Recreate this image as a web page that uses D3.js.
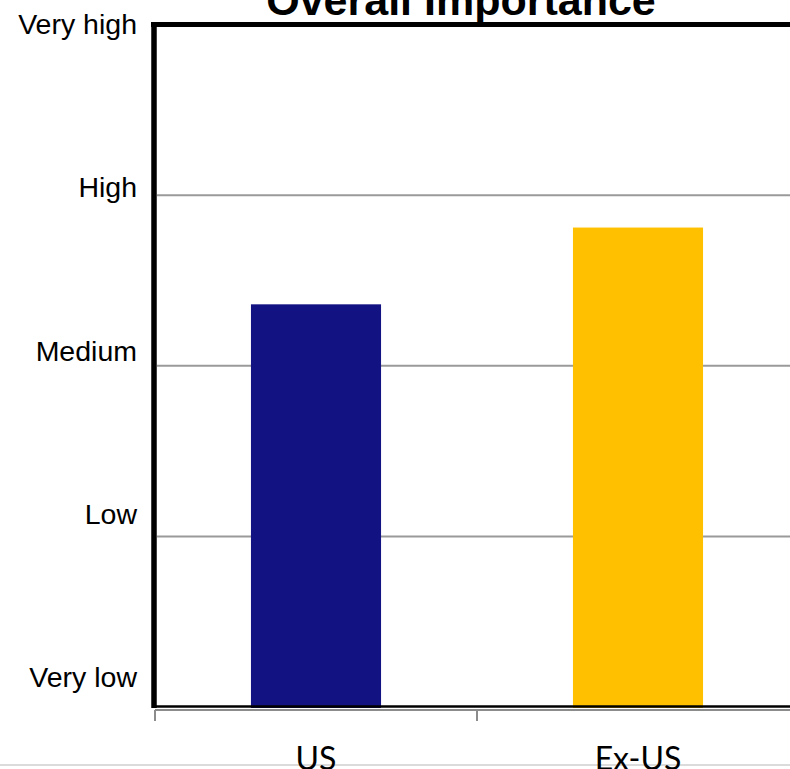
<!DOCTYPE html>
<html>
<head>
<meta charset="utf-8">
<script src="https://cdn.jsdelivr.net/npm/d3@7"></script>
<style>
  html, body { margin: 0; padding: 0; background: #fff; overflow: hidden; }
  svg { display: block; }
</style>
</head>
<body>
<svg id="chart" width="790" height="769"></svg>
<script>
// Overall importance rating by region (1 = Very low … 5 = Very high)
const categories = ["US", "Ex-US"];
const importance = [3.36, 3.81];
const barColors = ["#121282", "#FFC000"];
const levelValues = [1, 2, 3, 4, 5];
const levelLabels = ["Very low", "Low", "Medium", "High", "Very high"];
const title = "Overall Importance";

const svg = d3.select("#chart");
const W = 790, H = 769;
const plot = { left: 154, right: 799, top: 24.5, bottom: 707 };

const x = d3.scaleBand()
  .domain(categories)
  .range([plot.left + 1, plot.right])
  .paddingInner(0.596)
  .paddingOuter(0.298);

const y = d3.scaleLinear().domain([1, 5]).range([plot.bottom, plot.top]);
// the level captions sit on their own evenly spaced track
const yLabel = d3.scaleLinear().domain([1, 5]).range([687, 34]);

// title
svg.append("text")
  .attr("x", 461).attr("y", 15)
  .attr("text-anchor", "middle")
  .style("font-family", "Liberation Sans, Arial, sans-serif")
  .style("font-weight", "bold")
  .style("font-size", "43px")
  .text(title);

// horizontal gridlines
svg.append("g").selectAll("line")
  .data(levelValues.filter(v => v > 1 && v < 5))
  .join("line")
  .attr("x1", plot.left + 3).attr("x2", W)
  .attr("y1", d => y(d)).attr("y2", d => y(d))
  .attr("stroke", "#9a9a9a").attr("stroke-width", 2);

// bars
svg.append("g").selectAll("rect")
  .data(categories)
  .join("rect")
  .attr("x", d => x(d))
  .attr("width", x.bandwidth())
  .attr("y", (d, i) => y(importance[i]))
  .attr("height", (d, i) => y(1) - y(importance[i]) + 1)
  .attr("fill", (d, i) => barColors[i]);

// plot frame: heavy top and left, lighter bottom
svg.append("line")
  .attr("x1", plot.left - 3).attr("x2", W)
  .attr("y1", plot.top).attr("y2", plot.top)
  .attr("stroke", "#000").attr("stroke-width", 5);
svg.append("line")
  .attr("x1", plot.left).attr("x2", plot.left)
  .attr("y1", plot.top - 2.5).attr("y2", plot.bottom + 1)
  .attr("stroke", "#000").attr("stroke-width", 5.5);
svg.append("line")
  .attr("x1", plot.left).attr("x2", W)
  .attr("y1", y(1) - 0.5).attr("y2", y(1) - 0.5)
  .attr("stroke", "#000").attr("stroke-width", 2.5);

// category axis line and ticks at band boundaries
const axisY = plot.bottom + 3;
svg.append("line")
  .attr("x1", plot.left + 1).attr("x2", W)
  .attr("y1", axisY).attr("y2", axisY)
  .attr("stroke", "#8c8c8c").attr("stroke-width", 2);
const step = x.step();
const boundaries = [x(categories[0]) + x.bandwidth() / 2 - step / 2]
  .concat(categories.map(c => x(c) + x.bandwidth() / 2 + step / 2));
svg.append("g").selectAll("line")
  .data(boundaries)
  .join("line")
  .attr("x1", d => d).attr("x2", d => d)
  .attr("y1", axisY).attr("y2", axisY + 11)
  .attr("stroke", "#8c8c8c").attr("stroke-width", 2);

// thin rule along the foot
svg.append("line")
  .attr("x1", 0).attr("x2", W)
  .attr("y1", 765).attr("y2", 765)
  .attr("stroke", "#cfcfcf").attr("stroke-width", 1.5);

// level captions
svg.append("g").selectAll("text")
  .data(levelValues)
  .join("text")
  .attr("x", 137)
  .attr("y", d => yLabel(d))
  .attr("text-anchor", "end")
  .style("font-family", "Liberation Sans, Arial, sans-serif")
  .style("font-size", "28.5px")
  .attr("fill", "#000")
  .text((d, i) => levelLabels[i]);

// category captions
svg.append("g").selectAll("text")
  .data(categories)
  .join("text")
  .attr("x", d => x(d) + x.bandwidth() / 2)
  .attr("y", 770)
  .attr("text-anchor", "middle")
  .style("font-family", "Lato, 'Open Sans', sans-serif")
  .style("font-size", "32px")
  .attr("fill", "#000")
  .text(d => d);
</script>
</body>
</html>
